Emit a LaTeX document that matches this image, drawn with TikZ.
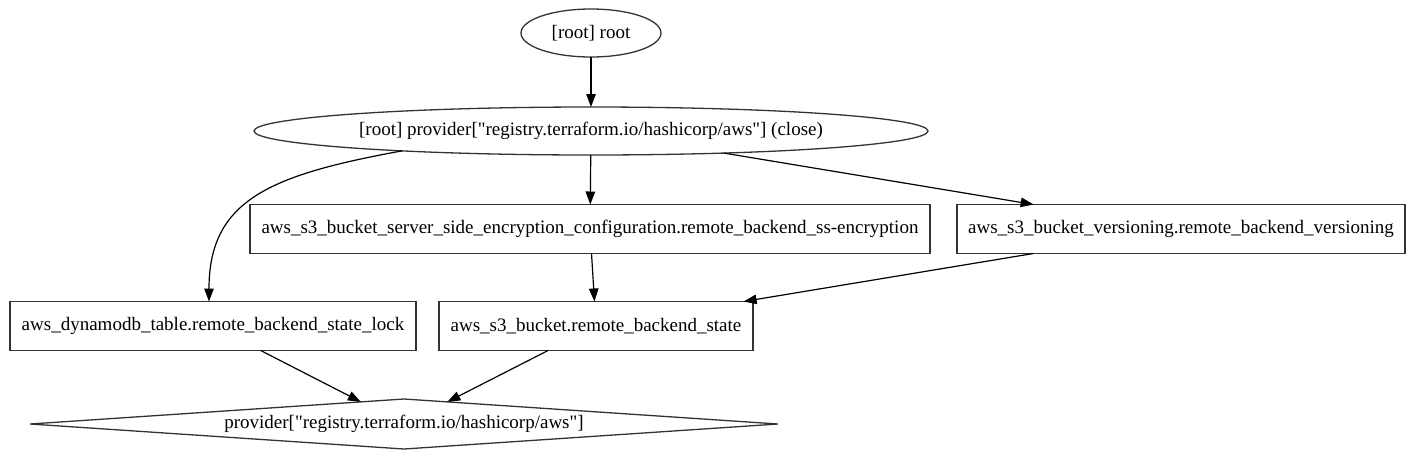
\documentclass[tikz,border=0pt]{standalone}
\usepackage{fontspec}
\setmainfont{Liberation Serif}[Ligatures=TeXOff]
\usetikzlibrary{arrows.meta,shapes.geometric}
\begin{document}
\begin{tikzpicture}[x=1pt,y=-1pt,
  base/.style={draw=black!80, line width=1.3pt, inner sep=0pt, outer sep=0pt},
  ell/.style={base, ellipse, minimum height=48pt},
  boxn/.style={base, rectangle, minimum height=49pt},
  dia/.style={base, diamond, minimum height=50pt},
  txt/.style={inner sep=0pt, font=\fontsize{19pt}{22pt}\selectfont},
  conn/.style={line width=1.2pt, -{Triangle[length=13pt,width=9.5pt]}}]
\useasboundingbox (0,0) rectangle (1415,456);
% nodes
\node[ell, minimum width=140pt] (root) at (591,33) {};
\node[txt] (roott) at (root) {[root] root};
\node[ell, minimum width=674pt] (pc) at (591,131) {};
\node[txt] (pct) at (pc) {[root] provider["registry.terraform.io/hashicorp/aws"] (close)};
\node[boxn, minimum width=680pt] (sse) at (590,229) {};
\node[txt] (sset) at (sse) {aws\_s3\_bucket\_server\_side\_encryption\_configuration.remote\_backend\_ss-encryption};
\node[boxn, minimum width=448pt] (vers) at (1181,229) {};
\node[txt] (verst) at (vers) {aws\_s3\_bucket\_versioning.remote\_backend\_versioning};
\node[boxn, minimum width=406pt] (dyn) at (213,326) {};
\node[txt] (dynt) at (dyn) {aws\_dynamodb\_table.remote\_backend\_state\_lock};
\node[boxn, minimum width=314pt] (s3) at (596,326) {};
\node[txt] (s3t) at (s3) {aws\_s3\_bucket.remote\_backend\_state};
\node[dia, minimum width=748pt] (prov) at (404,424) {};
\node[txt] (provt) at (prov) {provider["registry.terraform.io/hashicorp/aws"]};
% connectors
\draw[conn] (root) -- (pc);
\draw[conn] (pc.186) .. controls (270,175) and ([xshift=-4pt]dyn.north |- 0,200) .. ([xshift=-4pt]dyn.north);
\draw[conn] (pc) -- (sse);
\draw[conn] (pc) -- (vers);
\draw[conn] (sse) -- (s3);
\draw[conn] (vers) -- (s3);
\draw[conn] (dyn) -- (prov);
\draw[conn] (s3) -- (prov);
\end{tikzpicture}
\end{document}
